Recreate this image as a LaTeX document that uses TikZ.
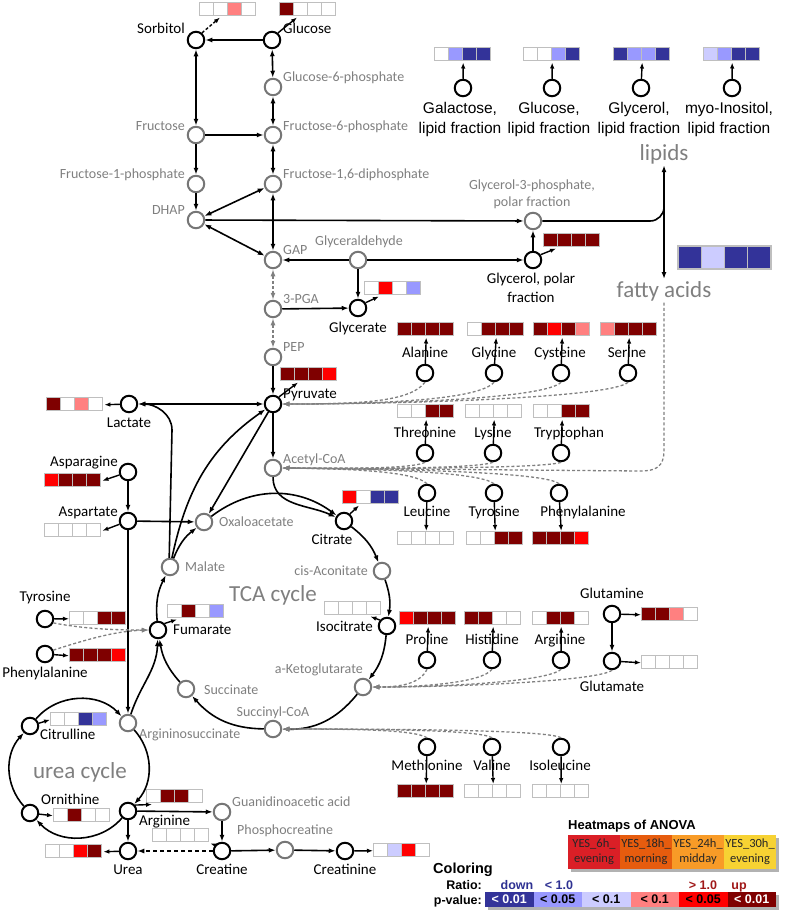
\documentclass[tikz,border=0pt]{standalone}
\usepackage{fontspec}
\setmainfont{Carlito}
\newfontfamily\arialf{Liberation Sans}
\usetikzlibrary{arrows.meta}
\definecolor{cDR}{HTML}{7F0000}
\definecolor{cR}{HTML}{FF0000}
\definecolor{cP}{HTML}{FF8080}
\definecolor{cDB}{HTML}{333399}
\definecolor{cLB}{HTML}{9999FF}
\definecolor{cLV}{HTML}{CCCCFF}
\definecolor{cW}{HTML}{FFFFFF}
\definecolor{glab}{HTML}{7F7F7F}
\definecolor{gcirc}{HTML}{767676}
\definecolor{gline}{HTML}{808080}
\definecolor{hmline}{HTML}{BFBFBF}
\definecolor{an1}{HTML}{DA1F26}
\definecolor{an2}{HTML}{E65C0E}
\definecolor{an3}{HTML}{F89B27}
\definecolor{an4}{HTML}{F7D233}
\definecolor{cTB}{HTML}{2E3192}
\definecolor{cTR}{HTML}{A01818}
\newcommand{\hmap}[7]{%
  \fill[#4] (#2,-#3) rectangle ++(14.1,-13.5);
  \fill[#5] (#2+14.1,-#3) rectangle ++(14.1,-13.5);
  \fill[#6] (#2+28.2,-#3) rectangle ++(14.1,-13.5);
  \fill[#7] (#2+42.3,-#3) rectangle ++(14.1,-13.5);
  \foreach \k in {0,1,2,3}{\draw[shmgrid] (#2+\k*14.1,-#3) rectangle ++(14.1,-13.5);}
  \node[shmnode, anchor=north west] (#1) at (#2,-#3) {};
}
\begin{document}
\begin{tikzpicture}[x=1pt,y=1pt,
  >={Latex[length=7pt,width=5pt]},
  sbn/.style={circle,draw=black,line width=2pt,minimum size=16.5pt,inner sep=0,fill=white},
  sgn/.style={sbn,draw=gcirc},
  sbl/.style={font=\fontsize{15}{18}\selectfont,inner sep=0,yshift=-4.8pt},
  sgl/.style={font=\fontsize{14}{17}\selectfont,text=glab,inner sep=0,yshift=-4.5pt},
  sal/.style={font=\arialf\fontsize{15.5}{18}\selectfont,inner sep=0,yshift=-5.5pt,anchor=base},
  sbig/.style={font=\fontsize{23}{26}\selectfont,text=glab,inner sep=0,yshift=-7pt,anchor=base},
  scon/.style={line width=1.6pt,->},
  sbi/.style={line width=1.6pt,<->},
  sha/.style={line width=1.4pt,-{Latex[length=6pt,width=4.5pt]}},
  sgd/.style={draw=gline,line width=1.3pt,dash pattern=on 3pt off 2.2pt,->},
  sgdb/.style={sgd,<->},
  sbd/.style={line width=1.6pt,dash pattern=on 4pt off 3pt,->},
  shmgrid/.style={draw=hmline,line width=0.9pt},
  shmnode/.style={minimum width=56.4pt,minimum height=13.5pt,inner sep=0,outer sep=1pt},
  sanova/.style={minimum width=52pt,minimum height=34pt,inner sep=0,align=center,font=\fontsize{12.5}{15}\selectfont,text=black!85},
  spbox/.style={minimum width=48.5pt,minimum height=15pt,inner sep=0,font=\arialf\bfseries\fontsize{12.5}{14}\selectfont},
  slg/.style={font=\arialf\bfseries\fontsize{12.5}{14}\selectfont,inner sep=0}
]
\useasboundingbox (0,0) rectangle (787,-918);

% ---------- heatmaps ----------
\hmap{hmSorb}{199}{2}{cW}{cW}{cP}{cW}
\hmap{hmGluc}{279}{2}{cDR}{cW}{cW}{cW}
\hmap{hmGal}{434}{47}{cW}{cLB}{cDB}{cDB}
\hmap{hmGlcL}{523}{47}{cW}{cW}{cLB}{cDB}
\hmap{hmGlyL}{613}{47}{cDB}{cLB}{cLB}{cDB}
\hmap{hmIno}{703}{47}{cLV}{cLB}{cDB}{cDB}
\hmap{hmGlyP}{543}{233}{cDR}{cDR}{cDR}{cDR}
\hmap{hmGlyc}{364}{281}{cW}{cR}{cW}{cLB}
\hmap{hmPyr}{280}{367}{cDR}{cDR}{cDR}{cR}
\hmap{hmLac}{46}{397}{cDR}{cW}{cP}{cW}
\hmap{hmAla}{397}{322}{cDR}{cDR}{cDR}{cDR}
\hmap{hmGly}{467}{322}{cW}{cDR}{cDR}{cDR}
\hmap{hmCys}{533}{322}{cDR}{cR}{cDR}{cP}
\hmap{hmSer}{600}{322}{cP}{cDR}{cDR}{cDR}
\hmap{hmThr}{397}{404}{cW}{cW}{cDR}{cDR}
\hmap{hmLys}{465}{404}{cW}{cW}{cW}{cW}
\hmap{hmTrp}{533}{404}{cW}{cW}{cDR}{cDR}
\hmap{hmAsn}{44}{473}{cR}{cDR}{cDR}{cDR}
\hmap{hmAsp}{44}{523}{cW}{cW}{cW}{cW}
\hmap{hmCit}{342}{490}{cR}{cW}{cDB}{cDB}
\hmap{hmLeu}{397}{531}{cW}{cW}{cW}{cW}
\hmap{hmTyrR}{466}{531}{cW}{cW}{cDR}{cDR}
\hmap{hmPheR}{532}{531}{cDR}{cDR}{cDR}{cR}
\hmap{hmFum}{167}{604}{cW}{cDR}{cW}{cLB}
\hmap{hmIso}{324}{601}{cW}{cW}{cW}{cW}
\hmap{hmTyrL}{69}{611}{cW}{cW}{cDR}{cDR}
\hmap{hmPheL}{69}{648}{cDR}{cDR}{cDR}{cR}
\hmap{hmPro}{399}{611}{cR}{cDR}{cDR}{cDR}
\hmap{hmHis}{464}{611}{cDR}{cDR}{cW}{cW}
\hmap{hmArgR}{532}{611}{cW}{cDR}{cDR}{cW}
\hmap{hmGln}{641}{607}{cDR}{cDR}{cP}{cW}
\hmap{hmGlu}{641}{655}{cW}{cW}{cW}{cW}
\hmap{hmCitr}{50}{712}{cW}{cW}{cDB}{cLB}
\hmap{hmOrn}{53}{808}{cW}{cDR}{cW}{cW}
\hmap{hmArgU}{146}{789}{cW}{cDR}{cDR}{cW}
\hmap{hmMet}{397}{784}{cDR}{cDR}{cDR}{cDR}
\hmap{hmVal}{464}{784}{cW}{cW}{cW}{cW}
\hmap{hmIle}{532}{784}{cW}{cW}{cW}{cW}
\hmap{hmCrea}{152}{828}{cW}{cW}{cW}{cW}
\hmap{hmUrea}{45}{844}{cW}{cW}{cR}{cDR}
\hmap{hmCrn}{373}{843}{cW}{cLV}{cR}{cW}
% fatty acids heatmap
\fill[cDB] (678,-246) rectangle ++(23.25,-23);
\fill[cLV] (701.25,-246) rectangle ++(23.25,-23);
\fill[cDB] (724.5,-246) rectangle ++(23.25,-23);
\fill[cDB] (747.75,-246) rectangle ++(23.25,-23);
\foreach \k in {0,1,2,3}{\draw[draw=hmline,line width=1.2pt] (678+\k*23.25,-246) rectangle ++(23.25,-23);}

% ---------- circles ----------
\node[sbn] (sorb) at (196,-40) {};
\node[sbn] (gluc) at (272,-40) {};
\node[sgn] (g6p) at (273,-87) {};
\node[sgn] (fru) at (196,-135) {};
\node[sgn] (f6p) at (273,-135) {};
\node[sgn] (f1p) at (196,-184) {};
\node[sgn] (f16) at (273,-184) {};
\node[sgn] (dhap) at (196,-220) {};
\node[sgn] (g3p) at (533,-221) {};
\node[sgn] (gap) at (273,-260) {};
\node[sgn] (glyald) at (358,-260) {};
\node[sbn] (glypol) at (533,-260) {};
\node[sgn] (pga) at (273,-309) {};
\node[sbn] (glyc) at (358,-308) {};
\node[sgn] (pep) at (273,-357) {};
\node[sbn] (pyr) at (273,-404) {};
\node[sbn] (lac) at (129,-404) {};
\node[sgn] (acoa) at (273,-468) {};
\node[sbn] (asn) at (128,-472) {};
\node[sbn] (asp) at (128,-521) {};
\node[sgn] (oaa) at (204,-522) {};
\node[sbn] (cit) at (344,-521) {};
\node[sgn] (mal) at (170,-567) {};
\node[sgn] (cisa) at (382,-571) {};
\node[sbn] (fum) at (158,-630) {};
\node[sbn] (iso) at (387,-626) {};
\node[sgn] (akg) at (363,-687) {};
\node[sgn] (succ) at (186,-689) {};
\node[sgn] (scoa) at (273,-729) {};
\node[sbn] (tyrL) at (45,-619) {};
\node[sbn] (pheL) at (45,-654) {};
\node[sbn] (citr) at (30,-726) {};
\node[sgn] (asuc) at (128,-723) {};
\node[sbn] (orn) at (30,-813) {};
\node[sbn] (argU) at (128,-811) {};
\node[sgn] (gaa) at (222,-812) {};
\node[sbn] (urea) at (128,-851) {};
\node[sbn] (crea) at (222,-851) {};
\node[sgn] (pcr) at (285,-850) {};
\node[sbn] (crn) at (345,-851) {};
\node[sbn] (lgal) at (463,-88) {};
\node[sbn] (lglc) at (552,-88) {};
\node[sbn] (lgly) at (641,-88) {};
\node[sbn] (lino) at (732,-88) {};
\node[sbn] (ala) at (425,-373) {};
\node[sbn] (gly) at (494,-373) {};
\node[sbn] (cys) at (561,-373) {};
\node[sbn] (ser) at (628,-373) {};
\node[sbn] (thr) at (425,-453) {};
\node[sbn] (lys) at (493,-453) {};
\node[sbn] (trp) at (561,-453) {};
\node[sbn] (leu) at (427,-493) {};
\node[sbn] (tyrR) at (494,-493) {};
\node[sbn] (pheR) at (559,-493) {};
\node[sbn] (pro) at (427,-660) {};
\node[sbn] (his) at (492,-660) {};
\node[sbn] (argR) at (561,-660) {};
\node[sbn] (gln) at (612,-614) {};
\node[sbn] (glu) at (612,-661) {};
\node[sbn] (met) at (427,-747) {};
\node[sbn] (val) at (492,-747) {};
\node[sbn] (ile) at (561,-747) {};

% ---------- labels ----------
\node[sbl,anchor=base east] (t-sorb) at (185,-29) {Sorbitol};
\node[sbl,anchor=base west] (t-gluc) at (283,-29) {Glucose};
\node[sbl,anchor=base] (t-glyc) at (358,-328) {Glycerate};
\node[sbl,anchor=base west] (t-pyr) at (283,-394) {Pyruvate};
\node[sbl,anchor=base] (t-lac) at (129,-423) {Lactate};
\node[sbl,anchor=base] (t-glyp1) at (531,-279) {Glycerol, polar};
\node[sbl,anchor=base] (t-glyp2) at (531,-298) {fraction};
\node[sbl,anchor=base east] (t-asn) at (118,-462) {Asparagine};
\node[sbl,anchor=base east] (t-asp) at (118,-512) {Aspartate};
\node[sbl,anchor=base] (t-cit) at (332,-540) {Citrate};
\node[sbl,anchor=base east] (t-iso) at (373,-627) {Isocitrate};
\node[sbl,anchor=base west] (t-fum) at (173,-630) {Fumarate};
\node[sbl,anchor=base] (t-tyrL) at (45,-597) {Tyrosine};
\node[sbl,anchor=base] (t-pheL) at (45,-673) {Phenylalanine};
\node[sbl,anchor=base west] (t-citr) at (40,-735) {Citrulline};
\node[sbl,anchor=base west] (t-orn) at (41,-800) {Ornithine};
\node[sbl,anchor=base west] (t-argU) at (139,-821) {Arginine};
\node[sbl,anchor=base] (t-urea) at (128,-870) {Urea};
\node[sbl,anchor=base] (t-crea) at (222,-870) {Creatine};
\node[sbl,anchor=base] (t-crn) at (345,-870) {Creatinine};
\node[sbl,anchor=base] (t-ala) at (425,-353) {Alanine};
\node[sbl,anchor=base] (t-gly) at (494,-353) {Glycine};
\node[sbl,anchor=base] (t-cys) at (560,-353) {Cysteine};
\node[sbl,anchor=base] (t-ser) at (627,-353) {Serine};
\node[sbl,anchor=base] (t-thr) at (425,-433) {Threonine};
\node[sbl,anchor=base] (t-lys) at (493,-433) {Lysine};
\node[sbl,anchor=base] (t-trp) at (569,-433) {Tryptophan};
\node[sbl,anchor=base] (t-leu) at (427,-512) {Leucine};
\node[sbl,anchor=base] (t-tyrR) at (494,-512) {Tyrosine};
\node[sbl,anchor=base] (t-pheR) at (583,-512) {Phenylalanine};
\node[sbl,anchor=base] (t-pro) at (427,-640) {Proline};
\node[sbl,anchor=base] (t-his) at (492,-640) {Histidine};
\node[sbl,anchor=base] (t-argR) at (560,-640) {Arginine};
\node[sbl,anchor=base] (t-gln) at (612,-594) {Glutamine};
\node[sbl,anchor=base] (t-glu) at (612,-687) {Glutamate};
\node[sbl,anchor=base] (t-met) at (427,-766) {Methionine};
\node[sbl,anchor=base] (t-val) at (492,-766) {Valine};
\node[sbl,anchor=base] (t-ile) at (560,-766) {Isoleucine};

\node[sgl,anchor=base west] (t-g6p) at (283,-77) {Glucose-6-phosphate};
\node[sgl,anchor=base east] (t-fru) at (185,-126) {Fructose};
\node[sgl,anchor=base west] (t-f6p) at (283,-126) {Fructose-6-phosphate};
\node[sgl,anchor=base east] (t-f1p) at (185,-174) {Fructose-1-phosphate};
\node[sgl,anchor=base west] (t-f16) at (283,-174) {Fructose-1,6-diphosphate};
\node[sgl,anchor=base east] (t-dhap) at (185,-210) {DHAP};
\node[sgl,anchor=base west] (t-gap) at (283,-250) {GAP};
\node[sgl,anchor=base] (t-glyald) at (359,-241) {Glyceraldehyde};
\node[sgl,anchor=base west] (t-pga) at (283,-299) {3-PGA};
\node[sgl,anchor=base west] (t-pep) at (283,-347) {PEP};
\node[sgl,anchor=base] (t-g3p1) at (532,-185) {Glycerol-3-phosphate,};
\node[sgl,anchor=base] (t-g3p2) at (532,-202) {polar fraction};
\node[sgl,anchor=base west] (t-acoa) at (283,-459) {Acetyl-CoA};
\node[sgl,anchor=base west] (t-oaa) at (219,-522) {Oxaloacetate};
\node[sgl,anchor=base west] (t-mal) at (185,-567) {Malate};
\node[sgl,anchor=base east] (t-cisa) at (368,-571) {cis-Aconitate};
\node[sgl,anchor=base east] (t-akg) at (363,-669) {a-Ketoglutarate};
\node[sgl,anchor=base west] (t-succ) at (204,-690) {Succinate};
\node[sgl,anchor=base] (t-scoa) at (273,-712) {Succinyl-CoA};
\node[sgl,anchor=base west] (t-asuc) at (139,-734) {Argininosuccinate};
\node[sgl,anchor=base west] (t-gaa) at (232,-802) {Guanidinoacetic acid};
\node[sgl,anchor=base west] (t-pcr) at (237,-830) {Phosphocreatine};

\node[sbig,outer sep=1.5pt] (lipids) at (664,-153) {lipids};
\node[sbig,outer sep=2pt] (fa) at (664,-290) {fatty acids};
\node[sbig] (t-tca) at (273,-594) {TCA cycle};
\node[sbig] (t-ureac) at (80,-771) {urea cycle};

\node[sal] (t-lgal1) at (460,-108) {Galactose,};
\node[sal] (t-lgal2) at (460,-128) {lipid fraction};
\node[sal] (t-lglc1) at (549,-108) {Glucose,};
\node[sal] (t-lglc2) at (549,-128) {lipid fraction};
\node[sal] (t-lgly1) at (639,-108) {Glycerol,};
\node[sal] (t-lgly2) at (639,-128) {lipid fraction};
\node[sal] (t-lino1) at (729,-108) {myo-Inositol,};
\node[sal] (t-lino2) at (729,-128) {lipid fraction};

% ---------- connectors ----------
\draw[scon] (gluc) -- (sorb);
\draw[sbi] (sorb) -- (fru);
\draw[sbi] (gluc) -- (g6p);
\draw[sbi] (g6p) -- (f6p);
\draw[scon] (fru) -- (f6p);
\draw[scon] (fru) -- (f1p);
\draw[sbi] (f6p) -- (f16);
\draw[scon] (f1p) -- (dhap);
\draw[sbi] (dhap) -- (f16);
\draw[sbi] (f16) -- (gap);
\draw[sbi] (dhap) -- (gap);
\draw[scon] (dhap) -- (g3p);
\draw[scon] (glyald) -- (gap);
\draw[scon] (glyald) -- (glypol);
\draw[scon] (glypol) -- (g3p);
\draw[scon] (glyald) -- (glyc);
\draw[scon] (pga) -- (glyc);
\draw[sgdb] (gap) -- (pga);
\draw[sgdb] (pga) -- (pep);
\draw[scon] (pep) -- (pyr);
\draw[sbi] (lac) -- (pyr);
\draw[scon] (pyr) -- (acoa);
\draw[scon] (pyr) -- (oaa);
\draw[scon] (mal) to[out=78,in=215] (pyr);
\draw[scon] (mal.95) -- (172,-430) to[out=90,in=0] (lac.east);
\coordinate (jn) at (664,-207);
\draw[scon] (g3p.east) -- (650,-221) to[out=0,in=-90] (jn) -- (lipids.south);
\draw[scon] (jn) -- (fa.north);

% TCA cycle
\draw[scon] (oaa) to[bend left=37] (cit);
\draw[scon] (cit) to[bend left=15] (cisa);
\draw[scon] (cisa) to[bend left=14] (iso);
\draw[scon] (iso) to[bend left=16] (akg);
\draw[scon] (akg) to[bend left=26] (scoa);
\draw[scon] (scoa) to[bend left=24] (succ);
\draw[scon] (succ) to[bend left=16] (fum);
\draw[scon] (fum) to[bend left=16] (mal);
\draw[scon] (mal) to[bend left=15] (oaa);
\draw[scon] (acoa) to[out=-90,in=155] (cit);

% aspartate
\draw[scon] (asn) -- (asp);
\draw[scon] (asp) -- (oaa);
\draw[scon] (asp) -- (asuc);
\draw[scon] (asuc) to[out=72,in=-92] (fum);
\draw[sgd] (tyrL.-25) .. controls (85,-629) and (115,-630) .. (fum.west);
\draw[sgd] (pheL.25) .. controls (85,-640) and (115,-631) .. (fum.west);

% urea cycle
\draw[scon] (citr) to[bend left=48] (asuc);
\draw[scon] (asuc) to[bend left=42] (argU);
\draw[scon] (argU) to[bend left=48] (orn);
\draw[scon] (orn) to[bend left=42] (citr);
\draw[scon] (argU) -- (gaa);
\draw[scon] (gaa) -- (crea);
\draw[scon] (argU) -- (urea);
\draw[sbd] (crea) -- (urea);
\draw[scon] (crea) -- (pcr);
\draw[scon] (pcr) -- (crn);
\draw[scon] (gln) -- (glu);

% dashed amino acid inputs
\draw[sgd] (ala.south) .. controls (410,-402) and (360,-404) .. (pyr.east);
\draw[sgd] (gly.south) .. controls (479,-400) and (380,-404) .. (pyr.east);
\draw[sgd] (cys.south) .. controls (546,-398) and (400,-404) .. (pyr.east);
\draw[sgd] (ser.south) .. controls (613,-397) and (420,-404) .. (pyr.east);
\draw[sgd] (thr.south) .. controls (415,-468) and (360,-469) .. (acoa.east);
\draw[sgd] (lys.south) .. controls (480,-468) and (380,-469) .. (acoa.east);
\draw[sgd] (trp.south) .. controls (548,-468) and (400,-469) .. (acoa.east);
\draw[sgd] (leu.north) .. controls (415,-472) and (360,-469) .. (acoa.east);
\draw[sgd] (tyrR.north) .. controls (480,-472) and (380,-469) .. (acoa.east);
\draw[sgd] (pheR.north) .. controls (546,-472) and (400,-469) .. (acoa.east);
\draw[sgd] (fa.south) -- (664,-450) .. controls (664,-467) and (656,-471) .. (640,-471) -- (acoa.east);
\draw[sgd] (pro.south) .. controls (420,-684) and (400,-687) .. (akg.east);
\draw[sgd] (his.south) .. controls (482,-683) and (420,-687) .. (akg.east);
\draw[sgd] (argR.south) .. controls (548,-682) and (440,-687) .. (akg.east);
\draw[sgd] (glu.south) .. controls (598,-681) and (460,-687) .. (akg.east);
\draw[sgd] (met.north) .. controls (415,-730) and (360,-729) .. (scoa.east);
\draw[sgd] (val.north) .. controls (480,-730) and (380,-729) .. (scoa.east);
\draw[sgd] (ile.north) .. controls (548,-730) and (400,-729) .. (scoa.east);

% heatmap arrows
\draw[sha,dash pattern=on 3pt off 2pt] (sorb.50) -- ([xshift=21pt]hmSorb.south west);
\draw[sha] (gluc.50) -- ([xshift=18pt]hmGluc.south west);
\draw[sha] (lgal) -- (hmGal.south);
\draw[sha] (lglc) -- (hmGlcL.south);
\draw[sha] (lgly) -- (hmGlyL.south);
\draw[sha] (lino) -- (hmIno.south);
\draw[sha] (glypol.35) -- ([xshift=13pt]hmGlyP.south west);
\draw[sha] (glyc.35) -- ([xshift=15pt]hmGlyc.south west);
\draw[sha] (pyr.50) -- ([xshift=18pt]hmPyr.south west);
\draw[sha] (lac) -- (hmLac.east);
\draw[sha] (ala) -- (hmAla.south);
\draw[sha] (gly) -- (hmGly.south);
\draw[sha] (cys) -- (hmCys.south);
\draw[sha] (ser) -- (hmSer.south);
\draw[sha] (thr) -- (hmThr.south);
\draw[sha] (lys) -- (hmLys.south);
\draw[sha] (trp) -- (hmTrp.south);
\draw[sha] (asn) -- (hmAsn.east);
\draw[sha] (asp) -- (hmAsp.east);
\draw[sha] (cit.50) -- ([xshift=17pt]hmCit.south west);
\draw[sha] (leu) -- (hmLeu.north);
\draw[sha] (tyrR) -- (hmTyrR.north);
\draw[sha] (pheR) -- (hmPheR.north);
\draw[sha] (fum.45) -- ([xshift=10pt]hmFum.south west);
\draw[sha] (iso.140) -- ([xshift=-12pt]hmIso.south east);
\draw[sha] (tyrL) -- (hmTyrL.west);
\draw[sha] (pheL) -- (hmPheL.west);
\draw[sha] (pro) -- (hmPro.south);
\draw[sha] (his) -- (hmHis.south);
\draw[sha] (argR) -- (hmArgR.south);
\draw[sha] (gln) -- (hmGln.west);
\draw[sha] (glu) -- (hmGlu.west);
\draw[sha] (citr) -- (hmCitr.west);
\draw[sha] (orn) -- (hmOrn.west);
\draw[sha] (argU.40) -- ([xshift=6pt]hmArgU.south west);
\draw[sha] (met) -- (hmMet.north);
\draw[sha] (val) -- (hmVal.north);
\draw[sha] (ile) -- (hmIle.north);
\draw[sha] (crea.140) -- (hmCrea.south east);
\draw[sha] (urea) -- (hmUrea.east);
\draw[sha] (crn) -- (hmCrn.west);

% ---------- legend ----------
\node[font=\arialf\bfseries\fontsize{13}{15}\selectfont,anchor=base west,inner sep=0] (leg-title) at (568,-829) {Heatmaps of ANOVA};
\fill[black!30] (571,-838) rectangle (779,-872);
\node[sanova,fill=an1] (an-1) at (594,-852) {YES\_6h\_\\evening};
\node[sanova,fill=an2] (an-2) at (646,-852) {YES\_18h\_\\morning};
\node[sanova,fill=an3] (an-3) at (698,-852) {YES\_24h\_\\midday};
\node[sanova,fill=an4] (an-4) at (750,-852) {YES\_30h\_\\evening};

\node[font=\arialf\bfseries\fontsize{14.5}{16}\selectfont,anchor=base west,inner sep=0] (leg-col) at (433,-873) {Coloring};
\node[slg,anchor=base east] (leg-ratio) at (482,-889) {Ratio:};
\node[slg,anchor=base,text=cTB] (leg-down) at (517,-889) {down};
\node[slg,anchor=base,text=cTB] (leg-lt) at (559,-889) {< 1.0};
\node[slg,anchor=base,text=cTR] (leg-gt) at (703,-889) {> 1.0};
\node[slg,anchor=base,text=cTR] (leg-up) at (739,-889) {up};
\node[slg,anchor=base east] (leg-p) at (482,-904) {p-value:};
\fill[black!30] (488,-895) rectangle (779,-910);
\node[spbox,fill=cDB,text=white] (pb1) at (509.25,-899.5) {< 0.01};
\node[spbox,fill=cLB] (pb2) at (557.75,-899.5) {< 0.05};
\node[spbox,fill=cLV] (pb3) at (606.25,-899.5) {< 0.1};
\node[spbox,fill=cP] (pb4) at (654.75,-899.5) {< 0.1};
\node[spbox,fill=cR] (pb5) at (703.25,-899.5) {< 0.05};
\node[spbox,fill=cDR,text=white] (pb6) at (751.75,-899.5) {< 0.01};
\end{tikzpicture}
\end{document}
